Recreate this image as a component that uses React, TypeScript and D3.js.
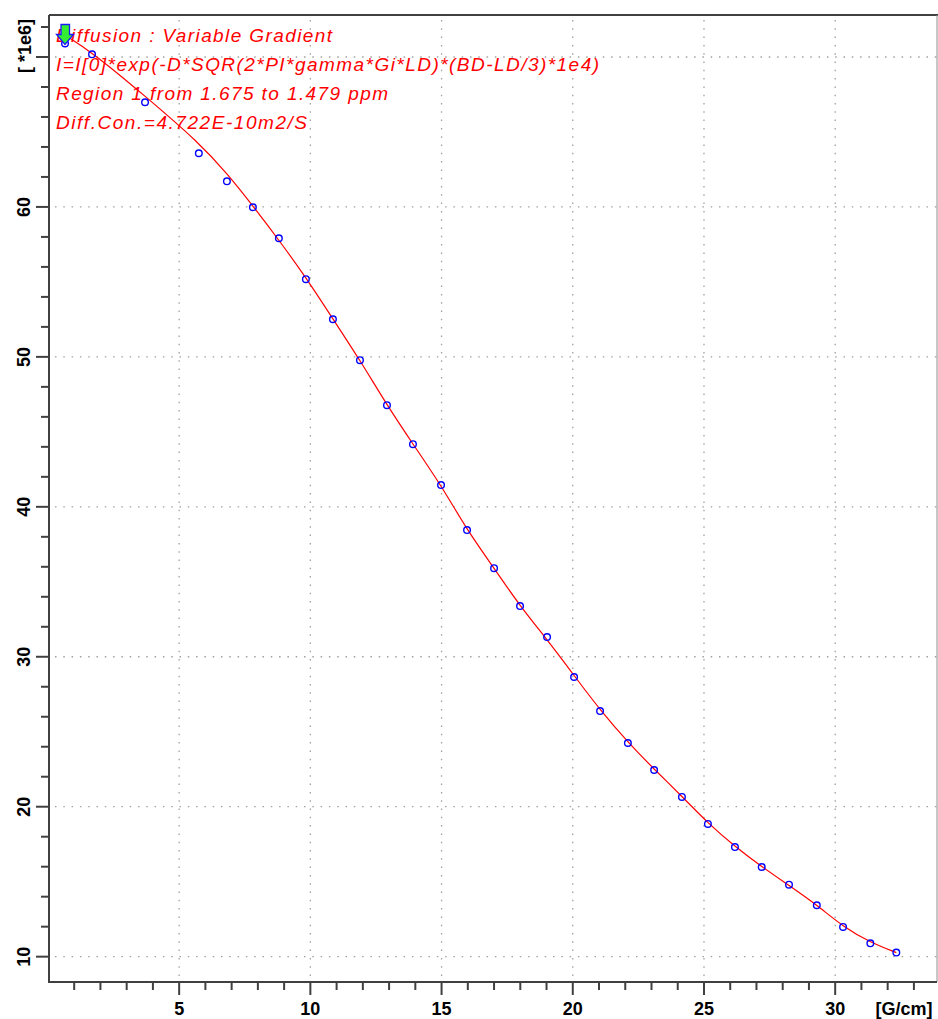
import React, { useEffect, useRef } from "react";
import * as d3 from "d3";

// measured points (gradient in G/cm, intensity in 1e6)
const gradient = [
  0.65, 1.68, 3.7, 5.75, 6.82, 7.81, 8.8, 9.83, 10.86, 11.89, 12.92, 13.91,
  14.98, 15.97, 17.0, 17.99, 19.02, 20.05, 21.04, 22.1, 23.1, 24.16, 25.15,
  26.18, 27.2, 28.24, 29.3, 30.3, 31.34, 32.33
];
const intensity = [
  70.9, 70.18, 66.98, 63.58, 61.71, 59.98, 57.91, 55.18, 52.51, 49.78, 46.78,
  44.18, 41.45, 38.45, 35.91, 33.38, 31.31, 28.65, 26.38, 24.25, 22.45, 20.65,
  18.85, 17.31, 15.98, 14.8, 13.43, 11.98, 10.89, 10.27
];

// fitted curve samples
const fitX = [
  0.53, 1.68, 3.7, 5.75, 6.86, 7.81, 8.84, 9.87, 10.86, 11.89, 12.92, 13.91,
  14.98, 15.97, 17.0, 17.99, 19.02, 20.05, 21.04, 22.1, 23.1, 24.16, 25.15,
  26.18, 27.2, 28.24, 29.3, 30.3, 31.34, 32.33
];
const fitY = [
  71.6, 70.33, 67.4, 64.3, 62.16, 60.07, 57.7, 55.2, 52.53, 49.78, 46.78,
  44.18, 41.45, 38.45, 35.91, 33.38, 31.15, 28.75, 26.45, 24.3, 22.5, 20.7,
  18.9, 17.35, 16.0, 14.75, 13.45, 12.0, 10.95, 10.27
];

const xMajor = [5, 10, 15, 20, 25, 30];
const yMajor = [10, 20, 30, 40, 50, 60, 70];
const yLabels = ["10", "20", "30", "40", "50", "60"];

const legendLines = [
  "Diffusion : Variable Gradient",
  "I=I[0]*exp(-D*SQR(2*PI*gamma*Gi*LD)*(BD-LD/3)*1e4)",
  "Region 1 from 1.675 to 1.479 ppm",
  "Diff.Con.=4.722E-10m2/S"
];
const legendWidths = [276, 543, 332, 251];

const W = 938;
const H = 1019;

function App() {
  const ref = useRef<SVGSVGElement>(null);

  useEffect(() => {
    const svg = d3.select(ref.current);
    svg.selectAll("*").remove();

    const left = 49;
    const right = 937;
    const top = 15;
    const bottom = 982;
    const axisColor = "#404040";

    const x = d3.scaleLinear().domain([0.04, 33.88]).range([left, right]);
    const y = d3.scaleLinear().domain([8.31, 72.8]).range([bottom, top]);

    // grid
    const grid = svg.append("g").attr("stroke", "#a0a0a0").attr("stroke-width", 1.3).attr("stroke-dasharray", "1.5 6.8");
    grid
      .selectAll("line.v")
      .data(xMajor)
      .enter()
      .append("line")
      .attr("x1", d => x(d))
      .attr("x2", d => x(d))
      .attr("y1", top + 5)
      .attr("y2", bottom);
    grid
      .selectAll("line.h")
      .data(yMajor)
      .enter()
      .append("line")
      .attr("x1", left + 6)
      .attr("x2", right)
      .attr("y1", d => y(d))
      .attr("y2", d => y(d));

    // frame
    svg.append("line").attr("x1", left).attr("x2", W).attr("y1", top).attr("y2", top).attr("stroke", axisColor).attr("stroke-width", 2);
    svg.append("line").attr("x1", right).attr("x2", right).attr("y1", top).attr("y2", bottom).attr("stroke", "#909090").attr("stroke-width", 1);
    svg.append("line").attr("x1", left).attr("x2", left).attr("y1", top).attr("y2", bottom + 1).attr("stroke", axisColor).attr("stroke-width", 2);
    svg.append("line").attr("x1", left).attr("x2", right).attr("y1", bottom).attr("y2", bottom).attr("stroke", axisColor).attr("stroke-width", 2);

    // x ticks
    const xTicks = d3.range(1, 34);
    svg
      .append("g")
      .selectAll("line")
      .data(xTicks)
      .enter()
      .append("line")
      .attr("x1", d => x(d))
      .attr("x2", d => x(d))
      .attr("y1", bottom)
      .attr("y2", d => (d % 5 === 0 ? bottom + 13 : bottom + 8))
      .attr("stroke", axisColor)
      .attr("stroke-width", 2);

    // y ticks
    const yTicks = d3.range(10, 73, 2);
    svg
      .append("g")
      .selectAll("line")
      .data(yTicks)
      .enter()
      .append("line")
      .attr("y1", d => y(d))
      .attr("y2", d => y(d))
      .attr("x1", left)
      .attr("x2", d => (d % 10 === 0 ? left - 13 : left - 8))
      .attr("stroke", axisColor)
      .attr("stroke-width", 2);

    const labelFont = "'Liberation Sans', Arial, sans-serif";

    svg
      .append("g")
      .selectAll("text")
      .data(xMajor)
      .enter()
      .append("text")
      .attr("x", d => x(d))
      .attr("y", 1015)
      .attr("text-anchor", "middle")
      .style("font-family", labelFont)
      .style("font-weight", "bold")
      .style("font-size", "18px")
      .text(d => `${d}`);

    svg
      .append("text")
      .attr("x", 904)
      .attr("y", 1015)
      .attr("text-anchor", "middle")
      .style("font-family", labelFont)
      .style("font-weight", "bold")
      .style("font-size", "18px")
      .text("[G/cm]");

    svg
      .append("g")
      .selectAll("text")
      .data(yLabels)
      .enter()
      .append("text")
      .attr("transform", d => `translate(30, ${y(+d)}) rotate(-90)`)
      .attr("text-anchor", "middle")
      .style("font-family", labelFont)
      .style("font-weight", "bold")
      .style("font-size", "18px")
      .text(d => d);

    svg
      .append("text")
      .attr("transform", "translate(31, 46) rotate(-90)")
      .attr("text-anchor", "middle")
      .style("font-family", labelFont)
      .style("font-weight", "bold")
      .style("font-size", "18px")
      .text("[ *1e6]");

    // fit curve
    const fit = fitX.map((d, i) => [d, fitY[i]] as [number, number]);
    const line = d3
      .line<[number, number]>()
      .x(d => x(d[0]))
      .y(d => y(d[1]))
      .curve(d3.curveBasis);
    svg
      .append("path")
      .attr("d", line(fit))
      .attr("fill", "none")
      .attr("stroke", "#ff0000")
      .attr("stroke-width", 1.2);

    // points
    svg
      .append("g")
      .selectAll("circle")
      .data(gradient)
      .enter()
      .append("circle")
      .attr("cx", d => x(d))
      .attr("cy", (d, i) => y(intensity[i]))
      .attr("r", 3.3)
      .attr("fill", "none")
      .attr("stroke", "#0000ff")
      .attr("stroke-width", 1.4);

    // legend text
    svg
      .append("g")
      .selectAll("text")
      .data(legendLines)
      .enter()
      .append("text")
      .attr("x", 56)
      .attr("y", (d, i) => 42 + i * 29)
      .attr("textLength", (d, i) => legendWidths[i])
      .attr("lengthAdjust", "spacing")
      .attr("fill", "#ff0000")
      .style("font-family", labelFont)
      .style("font-style", "italic")
      .style("font-size", "19px")
      .text(d => d);

    // marker on first point
    const mx = x(gradient[0]);
    const my = y(intensity[0]) + 1;
    const arrow = `M${mx - 4},${my - 20} L${mx + 4.5},${my - 20} L${mx + 4.5},${my - 10} L${mx + 8.5},${my - 10} L${mx},${my} L${mx - 8.5},${my - 10} L${mx - 4},${my - 10} Z`;
    svg
      .append("path")
      .attr("d", arrow)
      .attr("fill", "#33ee33")
      .attr("stroke", "#1a1aff")
      .attr("stroke-width", 1.3);
  });

  return (
    <svg
      ref={ref}
      width={W}
      height={H}
      style={{ position: "absolute", left: 0, top: 0, background: "#fff" }}
    />
  );
}

export default App;
